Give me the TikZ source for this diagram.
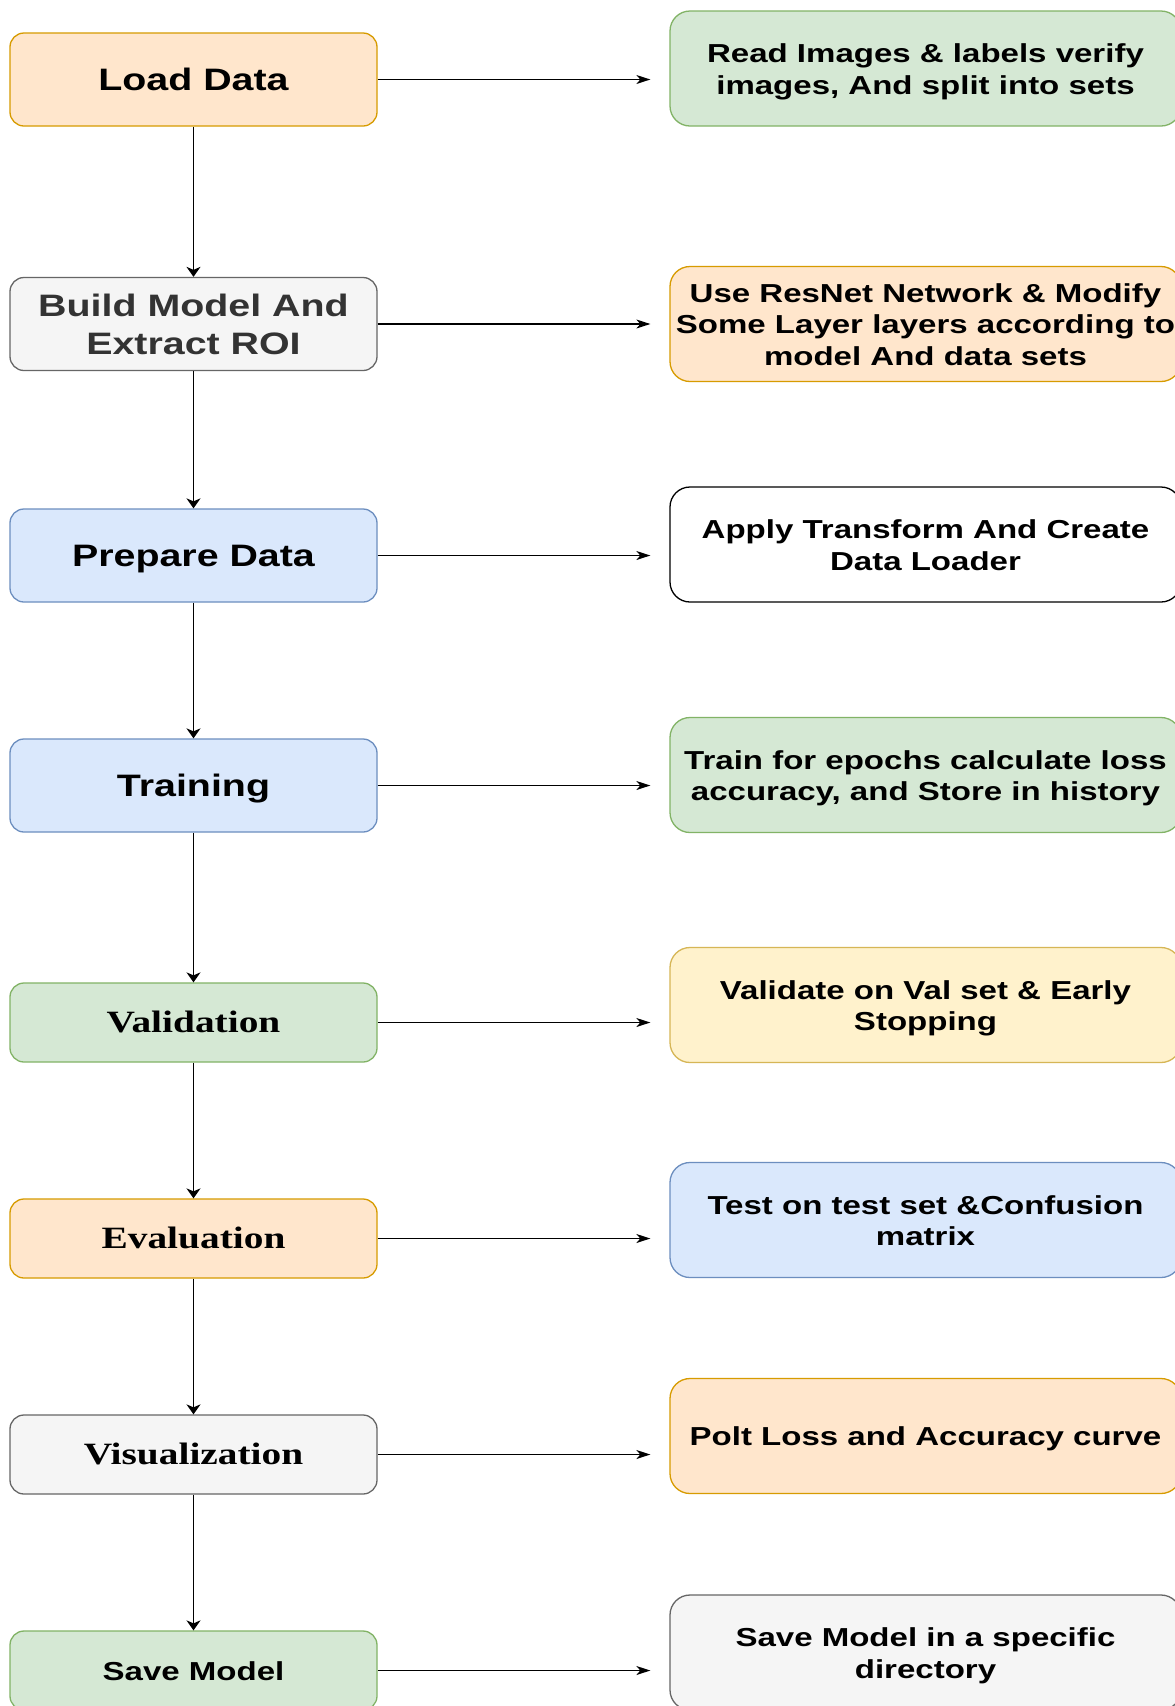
\documentclass[tikz,border=0pt]{standalone}
\usepackage{fontspec}
\setmainfont{Liberation Sans}
\newfontfamily\bsans[FakeStretch=1.27]{Liberation Sans}
\newfontfamily\bserif[FakeStretch=1.27]{Liberation Serif}
\usetikzlibrary{arrows.meta}
\definecolor{orangeF}{HTML}{FFE6CC}\definecolor{orangeD}{HTML}{D79B00}
\definecolor{greyF}{HTML}{F5F5F5}\definecolor{greyD}{HTML}{666666}
\definecolor{blueF}{HTML}{DAE8FC}\definecolor{blueD}{HTML}{6C8EBF}
\definecolor{greenF}{HTML}{D5E8D4}\definecolor{greenD}{HTML}{82B366}
\definecolor{yellowF}{HTML}{FFF2CC}\definecolor{yellowD}{HTML}{D6B656}
\definecolor{darktext}{HTML}{333333}
% centred block of lines; #1 = height of the first row (larger = text lower)
\newcommand{\txtblock}[2]{\begin{tabular}{@{}c@{}}\rule{0pt}{#1}#2\end{tabular}}
\tikzset{
  box/.style={rounded corners=14pt, line width=1.3pt, inner sep=0pt},
  lbig/.style={box, minimum width=367pt, minimum height=93pt, font=\bsans\bfseries\fontsize{31}{38}\selectfont},
  lsmall/.style={box, minimum width=367pt, minimum height=79pt},
  rbox/.style={box, rounded corners=20pt, minimum width=511pt, minimum height=115pt, font=\bsans\bfseries\fontsize{26}{31.2}\selectfont},
  orangeS/.style={fill=orangeF, draw=orangeD},
  greyS/.style={fill=greyF, draw=greyD},
  blueS/.style={fill=blueF, draw=blueD},
  greenS/.style={fill=greenF, draw=greenD},
  yellowS/.style={fill=yellowF, draw=yellowD},
  whiteS/.style={fill=white, draw=black},
  serifT/.style={font=\bserif\bfseries\fontsize{31}{38}\selectfont},
  smallSans/.style={font=\bsans\bfseries\fontsize{26}{31.2}\selectfont},
  vArr/.style={line width=1.5pt, -{Stealth[length=10pt,width=14pt,inset=3pt]}},
  hArr/.style={line width=1.3pt, -{Stealth[length=14pt,width=9pt,inset=4pt]}}
}
\begin{document}
\begin{tikzpicture}[x=1pt,y=-1pt]
\clip (0,0) rectangle (1175,1706);
\fill[white] (0,0) rectangle (1175,1706);
% left column
\node[lbig, orangeS] (l1) at (193.5,79.5) {\txtblock{33.6pt}{Load Data}};
\node[lbig, greyS, text=darktext] (l2) at (193.5,324) {\txtblock{34.5pt}{Build Model And\\Extract ROI}};
\node[lbig, blueS] (l3) at (193.5,555.5) {\txtblock{33.6pt}{Prepare Data}};
\node[lbig, blueS] (l4) at (193.5,785.5) {\txtblock{33.6pt}{Training}};
\node[lsmall, greenS, serifT] (l5) at (193.5,1022.5) {\txtblock{31.6pt}{Validation}};
\node[lsmall, orangeS, serifT] (l6) at (193.5,1238.5) {\txtblock{31.6pt}{Evaluation}};
\node[lsmall, greyS, serifT] (l7) at (193.5,1454.5) {\txtblock{31.6pt}{Visualization}};
\node[lsmall, greenS, smallSans] (l8) at (193.5,1670.5) {\txtblock{28.4pt}{Save Model}};
% right column
\node[rbox, greenS] (r1) at (925.5,68.5) {\txtblock{29.3pt}{Read Images \& labels verify\\images, And split into sets}};
\node[rbox, orangeS] (r2) at (925.5,324) {\txtblock{29.3pt}{Use ResNet Network \& Modify\\Some Layer layers according to\\model And data sets}};
\node[rbox, whiteS] (r3) at (925.5,544.5) {\txtblock{29.3pt}{Apply Transform And Create\\Data Loader}};
\node[rbox, greenS] (r4) at (925.5,775) {\txtblock{29.3pt}{Train for epochs calculate loss\\accuracy, and Store in history}};
\node[rbox, yellowS] (r5) at (925.5,1005) {\txtblock{29.3pt}{Validate on Val set \& Early\\Stopping}};
\node[rbox, blueS] (r6) at (925.5,1220) {\txtblock{29.3pt}{Test on test set \&Confusion\\matrix}};
\node[rbox, orangeS] (r7) at (925.5,1436) {\txtblock{29.3pt}{Polt Loss and Accuracy curve}};
\node[rbox, greyS] (r8) at (925.5,1652.5) {\txtblock{29.3pt}{Save Model in a specific\\directory}};
% vertical connectors
\draw[vArr] (l1) -- (l2);
\draw[vArr] (l2) -- (l3);
\draw[vArr] (l3) -- (l4);
\draw[vArr] (l4) -- (l5);
\draw[vArr] (l5) -- (l6);
\draw[vArr] (l6) -- (l7);
\draw[vArr] (l7) -- (l8);
% horizontal connectors
\foreach \i in {1,...,8}{
  \draw[hArr] (l\i.east) -- ([xshift=-19pt]l\i.east -| r\i.west);
}
\end{tikzpicture}
\end{document}
